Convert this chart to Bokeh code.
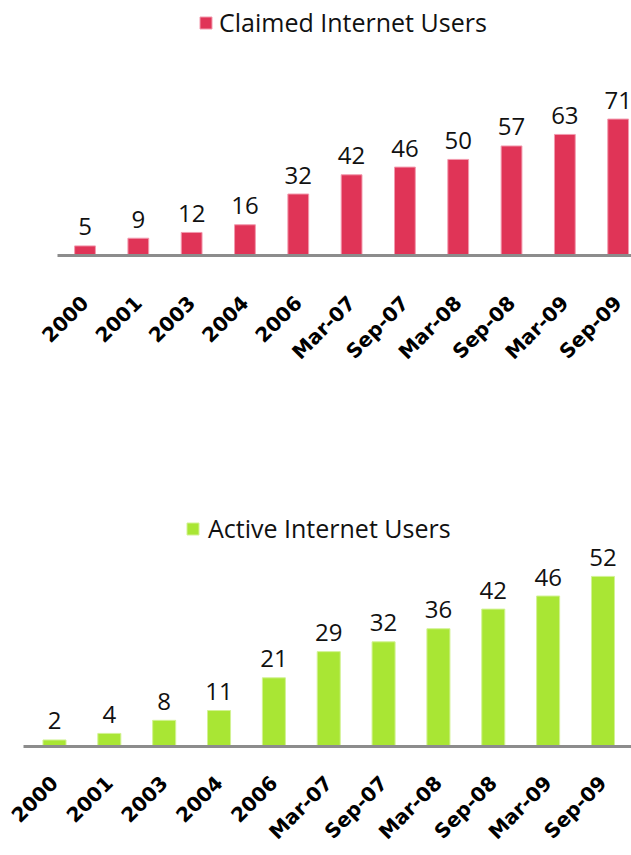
import math
from bokeh.plotting import figure
from bokeh.models import Range1d, FixedTicker, Legend, LegendItem, ColumnDataSource
from bokeh.core.properties import value
from bokeh.embed import file_html
from bokeh.resources import INLINE

periods = ["2000", "2001", "2003", "2004", "2006", "Mar-07", "Sep-07",
           "Mar-08", "Sep-08", "Mar-09", "Sep-09"]
claimed = [5, 9, 12, 16, 32, 42, 46, 50, 57, 63, 71]
active = [2, 4, 8, 11, 21, 29, 32, 36, 42, 46, 52]
claimed_name = "Claimed Internet Users"
active_name = "Active Internet Users"


def make(values, name, color, edge, height, border_left, border_bottom,
         x_start, x_end, y_end, bar_w, legend_loc, legend_standoff, label_standoff):
    x = list(range(len(periods)))
    src = ColumnDataSource(dict(x=x, top=values, label=[str(v) for v in values]))
    p = figure(width=631, height=height, output_backend="svg", toolbar_location=None,
               x_range=Range1d(x_start, x_end), y_range=Range1d(0, y_end),
               min_border_left=border_left, min_border_right=0,
               min_border_top=0, min_border_bottom=border_bottom)
    p.outline_line_color = None
    p.grid.visible = False
    p.yaxis.visible = False
    p.background_fill_color = "white"
    p.border_fill_color = "white"

    r = p.vbar(x="x", top="top", width=bar_w, bottom=0, source=src,
               fill_color=color, line_color=edge, line_width=1)
    p.text(x="x", y="top", text="label", source=src, y_offset=-19,
           text_align="center", text_baseline="alphabetic",
           text_font=value("Open Sans"), text_font_size="24px", text_color="#111111")

    ax = p.xaxis[0]
    ax.ticker = FixedTicker(ticks=x)
    ax.major_label_overrides = {i: lab for i, lab in zip(x, periods)}
    ax.major_tick_line_color = None
    ax.minor_tick_line_color = None
    ax.axis_line_color = "#8c8c8c"
    ax.axis_line_width = 3
    ax.major_label_orientation = math.pi / 4
    ax.major_label_text_font = "DejaVu Sans"
    ax.major_label_text_font_style = "bold"
    ax.major_label_text_font_size = "20px"
    ax.major_label_text_color = "#000000"
    ax.major_label_standoff = label_standoff

    legend = Legend(items=[LegendItem(label=name, renderers=[r])],
                    location=legend_loc, padding=0, margin=0, spacing=0,
                    border_line_alpha=0, background_fill_alpha=0,
                    glyph_width=15, glyph_height=15, label_standoff=legend_standoff,
                    label_text_font="Open Sans", label_text_font_size="25px",
                    label_text_color="#111111")
    p.add_layout(legend)
    return p


p1 = make(claimed, claimed_name, "#E03457", "#F29AAE", 430, 57, 175,
          -0.516, 10.25, 132.7, 0.39, (141, 216), 6, 38)
p2 = make(active, active_name, "#A9E634", "#D2F294", 425, 23, 104,
          -0.565, 10.52, 96.6, 0.42, (162, 201), 8, 27)

open("out.html", "w").write(file_html([p1, p2], INLINE))
